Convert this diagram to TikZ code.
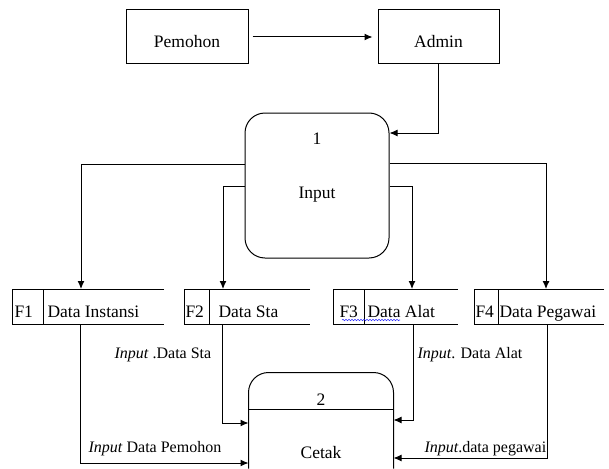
\documentclass[tikz,border=0pt]{standalone}
\usepackage{fontspec}
\setmainfont{Liberation Serif}
\usetikzlibrary{arrows.meta,decorations.pathmorphing}
\begin{document}
\begin{tikzpicture}[x=1pt,y=-1pt, line width=1pt,
  ent/.style={draw, minimum height=54pt, inner sep=0pt},
  datastore/.style={minimum height=34pt, minimum width=#1, inner sep=0pt, anchor=north west},
  arr/.style={-{Latex[length=8pt,width=7pt]}},
  boxtxt/.style={font=\fontsize{17.5}{20}\selectfont, inner sep=0pt, anchor=base},
  storetxt/.style={font=\fontsize{17.5}{20}\selectfont, inner sep=0pt, anchor=base west},
  lbl/.style={font=\fontsize{16}{18}\selectfont, inner sep=0pt, anchor=base west},
]
\useasboundingbox (0,0) rectangle (609,468);

% external entities
\node[ent, minimum width=122pt] (pem) at (187,37) {};
\node[boxtxt] (pemt) at (187,48) {Pemohon};
\node[ent, minimum width=121pt] (adm) at (438.5,37) {};
\node[boxtxt] (admt) at (438.5,48) {Admin};
\draw[arr, shorten <=4pt, shorten >=5pt] (pem.east) -- (adm.west);

% process 1
\node[draw, rounded corners=20pt, minimum width=144pt, minimum height=145pt, inner sep=0pt] (p1) at (317,185.5) {};
\node[boxtxt] (p1n) at (317,144) {1};
\node[boxtxt] (p1t) at (317,198) {Input};
\draw[arr] (adm.south) -- (adm.south |- 0,133) -- (p1.east |- 0,133);

% data stores
\node[datastore=151pt] (f1) at (12,289) {};
\node[datastore=125pt] (f2) at (184,289) {};
\node[datastore=124pt] (f3) at (333,289) {};
\node[datastore=129pt] (f4) at (474,289) {};
\foreach \s/\d in {f1/43,f2/209,f3/364,f4/498}{
  \draw (\s.north east) -- (\s.north west) -- (\s.south west) -- (\s.south east);
  \draw (\s.north -| \d,0) -- (\s.south -| \d,0);
}
\node[storetxt] (f1a) at (14,317) {F1};
\node[storetxt] (f1b) at (47,317) {Data Instansi};
\node[storetxt] (f2a) at (185,317) {F2};
\node[storetxt] (f2b) at (218,317) {Data Sta};
\node[storetxt] (f3a) at (339,317) {F3};
\node[storetxt] (f3b) at (367,317) {Data Alat};
\node[storetxt] (f4a) at (475,317) {F4};
\node[storetxt] (f4b) at (499,317) {Data Pegawai};
\draw[blue!80, line width=0.6pt, decorate, decoration={snake, amplitude=0.7pt, segment length=3pt}] (342,320) -- (400,320);

% flows from process 1
\draw[arr] (p1.west |- 0,164) -| (f1.north -| 81,0);
\draw[arr] (p1.east |- 0,163) -| (f4.north -| 546,0);
\draw[arr] (p1.west |- 0,186) -| (f2.north -| 223,0);
\draw[arr] (p1.east |- 0,186) -| (f3.north -| 412,0);

% process 2
\node[minimum width=144pt, minimum height=95pt, inner sep=0pt] (p2) at (321,420.5) {};
\draw[rounded corners=20pt] (p2.south west) -- (p2.north west) -- (p2.north east) -- (p2.south east);
\draw (p2.west |- 0,409) -- (p2.east |- 0,409);
\node[boxtxt] (p2n) at (321,405) {2};
\node[boxtxt] (p2t) at (321,458) {Cetak};

% flows into process 2
\draw[arr] (f2.south -| 222,0) |- (p2.west |- 0,423);
\draw[arr] (f1.south -| 80,0) |- (p2.west |- 0,463);
\draw[arr] (f3.south -| 413,0) |- (p2.east |- 0,420);
\draw[arr] (f4.south -| 547,0) |- (p2.east |- 0,458);

% labels
\node[lbl] (l1) at (114,358) {\textit{Input} .Data Sta};
\node[lbl] (l2) at (417,358) {\textit{Input}. Data Alat};
\node[lbl] (l3) at (88,452) {\textit{Input} Data Pemohon};
\node[lbl] (l4) at (424,452) {\textit{Input}.data pegawai};
\end{tikzpicture}
\end{document}
